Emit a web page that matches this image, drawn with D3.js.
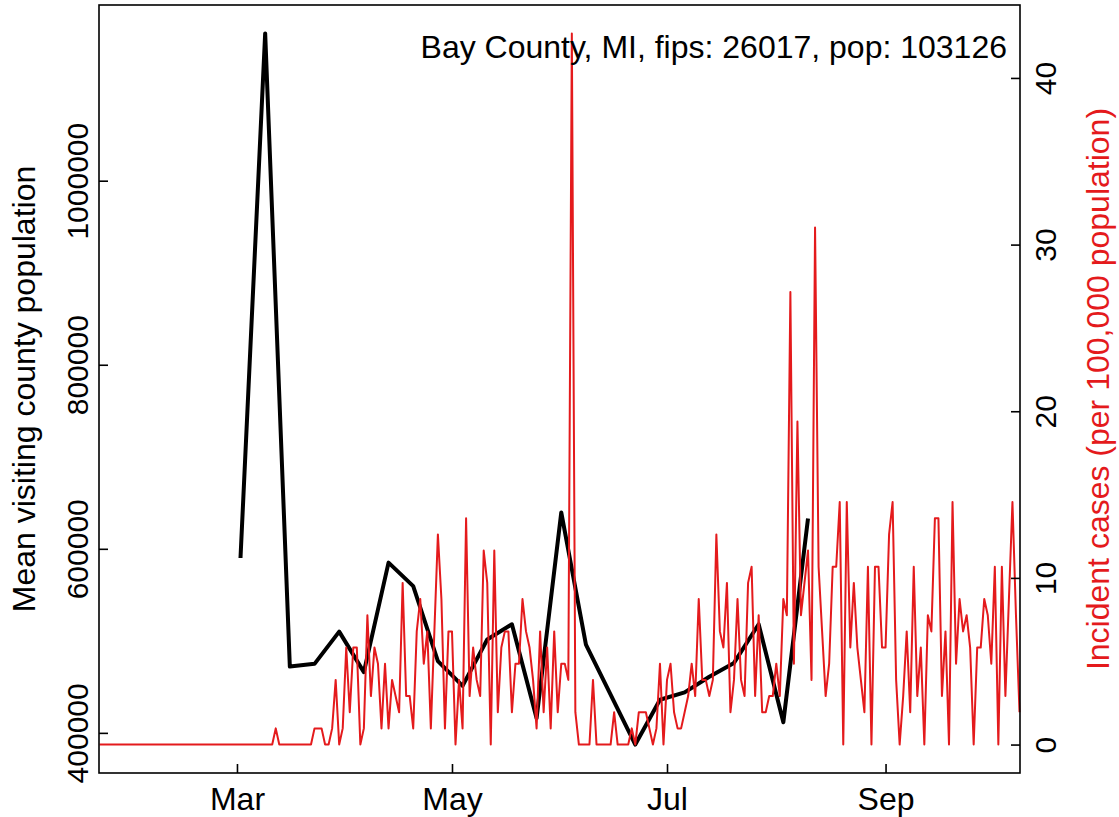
<!DOCTYPE html>
<html>
<head>
<meta charset="utf-8">
<script src="https://cdn.jsdelivr.net/npm/d3@7"></script>
<style>
  body { margin: 0; background: #fff; }
  text { font-family: "Liberation Sans", Arial, Helvetica, sans-serif; }
</style>
</head>
<body>
<div id="chart"></div>
<script>
// weekly mean visiting county population (Mondays)
const weekDates = ["2020-03-02","2020-03-09","2020-03-16","2020-03-23","2020-03-30","2020-04-06",
  "2020-04-13","2020-04-20","2020-04-27","2020-05-04","2020-05-11","2020-05-18","2020-05-25",
  "2020-06-01","2020-06-08","2020-06-22","2020-06-29","2020-07-06","2020-07-13","2020-07-20",
  "2020-07-27","2020-08-03","2020-08-10"];
const visitors = [590000,1160000,472000,475000,510000,466000,585000,559500,478000,451000,501500,
  518000,416000,639500,496000,387300,436000,444000,461000,476000,518000,411500,633000];

// daily incident cases per 100,000, one value per day from caseStart
const caseStart = "2020-01-22";
const incidence = [
  0,0,0,0,0,0,0,0,0,0,
  0,0,0,0,0,0,0,0,0,0,
  0,0,0,0,0,0,0,0,0,0,
  0,0,0,0,0,0,0,0,0,0,
  0,0,0,0,0,0,0,0,0,0,
  0.97,0,0,0,0,0,0,0,0,0,
  0,0.97,0.97,0.97,0,0,0.97,3.88,0,0.97,
  5.82,1.94,5.82,5.82,0,0.97,7.76,2.91,5.82,4.85,
  0.97,4.85,0.97,3.88,2.91,1.94,9.70,2.91,2.91,0.97,
  6.79,8.73,4.85,6.79,0.97,6.79,12.61,8.73,0.97,6.79,
  6.79,0,3.88,0.97,13.58,2.91,5.82,3.88,2.91,11.64,
  9.70,0,11.64,1.94,5.82,6.79,6.79,1.94,4.85,4.85,
  8.73,6.79,5.82,3.88,0.97,6.79,1.94,5.82,0.97,6.79,
  1.94,4.85,4.85,3.88,42.67,1.94,0,0,0,0,
  3.88,0,0,0,0,0,1.94,0,0,0,
  0,0.97,0,1.94,1.94,1.94,0.97,0,0.97,4.85,
  0,3.88,4.85,1.94,0.97,0.97,1.94,2.91,4.85,2.91,
  8.73,3.88,3.88,2.91,3.88,12.61,6.79,5.82,9.70,1.94,
  3.88,8.73,3.88,2.91,9.70,10.67,2.91,7.76,1.94,1.94,
  2.91,2.91,4.85,2.91,8.73,7.76,27.15,4.85,19.39,7.76,
  9.70,11.64,3.88,31.03,10.67,6.79,2.91,4.85,10.67,10.67,
  14.55,0,14.55,5.82,9.70,5.82,3.88,1.94,10.67,0,
  10.67,10.67,5.82,5.82,12.61,14.55,3.88,0,2.91,6.79,
  1.94,10.67,2.91,5.82,0,7.76,6.79,13.58,13.58,2.91,
  6.79,0,14.55,4.85,8.73,6.79,7.76,5.82,0,5.82,
  5.82,8.73,7.76,4.85,10.67,0,10.67,2.91,8.73,14.55,
  7.76,1.94
];

const monthTicks = ["2020-03-01","2020-05-01","2020-07-01","2020-09-01"];
const leftTicks = [400000, 600000, 800000, 1000000];
const rightTicks = [0, 10, 20, 30, 40];
const titleText = "Bay County, MI, fips: 26017, pop: 103126";

const W = 1119, H = 817;
const box = {left: 99, right: 1020, top: 5, bottom: 773};
const red = "#e41a1c";
const fs = 32;      // titles and month labels
const fsTick = 30;  // rotated y tick labels

const parse = d3.utcParse("%Y-%m-%d");
const start = parse(caseStart);
const daily = incidence.map((v, i) => ({date: d3.utcDay.offset(start, i), v}));
const weekly = weekDates.map((d, i) => ({date: parse(d), v: visitors[i]}));

const svg = d3.select("#chart").append("svg")
  .attr("width", W).attr("height", H);

const x = d3.scaleUtc()
  .domain([start, daily[daily.length - 1].date])
  .range([box.left + 0.5, box.right - 0.5]);

// R style 4% padding on the y ranges
function padded(ext) {
  const r = ext[1] - ext[0];
  return [ext[0] - 0.04 * r, ext[1] + 0.04 * r];
}
const yL = d3.scaleLinear().domain(padded(d3.extent(visitors))).range([box.bottom, box.top]);
const yR = d3.scaleLinear().domain(padded([0, d3.max(incidence)])).range([box.bottom, box.top]);

// lines
svg.append("path")
  .datum(weekly)
  .attr("fill", "none")
  .attr("stroke", "#000")
  .attr("stroke-width", 4)
  .attr("stroke-linejoin", "round")
  .attr("d", d3.line().x(d => x(d.date)).y(d => yL(d.v)));

svg.append("path")
  .datum(daily)
  .attr("fill", "none")
  .attr("stroke", red)
  .attr("stroke-width", 2)
  .attr("stroke-linejoin", "round")
  .attr("d", d3.line().x(d => x(d.date)).y(d => yR(d.v)));

// box
svg.append("rect")
  .attr("x", box.left).attr("y", box.top)
  .attr("width", box.right - box.left).attr("height", box.bottom - box.top)
  .attr("fill", "none").attr("stroke", "#000").attr("stroke-width", 1.6);

// bottom axis
const gx = svg.append("g")
  .attr("transform", `translate(0, ${box.bottom})`)
  .call(d3.axisBottom(x).tickValues(monthTicks.map(parse))
    .tickFormat(d3.utcFormat("%b")).tickSizeInner(-9).tickSizeOuter(0));
gx.select(".domain").remove();
gx.selectAll(".tick line").attr("stroke-width", 1.6);
gx.selectAll(".tick text").attr("y", 37).attr("dy", null)
  .attr("font-size", fs).attr("font-family", null).attr("fill", "#000");

// left axis
const gl = svg.append("g")
  .attr("transform", `translate(${box.left}, 0)`)
  .call(d3.axisLeft(yL).tickValues(leftTicks).tickFormat(d3.format("d"))
    .tickSizeInner(-9).tickSizeOuter(0));
gl.select(".domain").remove();
gl.selectAll(".tick line").attr("stroke-width", 1.6);
gl.selectAll(".tick text")
  .attr("x", 0).attr("y", -11).attr("dy", null)
  .attr("transform", "rotate(-90)")
  .attr("text-anchor", "middle")
  .attr("font-size", fsTick).attr("font-family", null).attr("fill", "#000");

// right axis
const gr = svg.append("g")
  .attr("transform", `translate(${box.right}, 0)`)
  .call(d3.axisRight(yR).tickValues(rightTicks).tickSizeInner(-9).tickSizeOuter(0));
gr.select(".domain").remove();
gr.selectAll(".tick line").attr("stroke-width", 1.6);
gr.selectAll(".tick text")
  .attr("x", 0).attr("y", 36).attr("dy", null)
  .attr("transform", "rotate(-90)")
  .attr("text-anchor", "middle")
  .attr("font-size", fsTick).attr("font-family", null).attr("fill", "#000");

// titles
const midY = (box.top + box.bottom) / 2;
svg.append("text")
  .attr("transform", `translate(35, ${midY}) rotate(-90)`)
  .attr("text-anchor", "middle")
  .attr("font-size", fs)
  .text("Mean visiting county population");

svg.append("text")
  .attr("transform", `translate(1109, ${midY}) rotate(-90)`)
  .attr("text-anchor", "middle")
  .attr("font-size", fs)
  .attr("fill", red)
  .text("Incident cases (per 100,000 population)");

svg.append("text")
  .attr("x", 1007).attr("y", 58)
  .attr("text-anchor", "end")
  .attr("font-size", fs)
  .text(titleText);
</script>
</body>
</html>
